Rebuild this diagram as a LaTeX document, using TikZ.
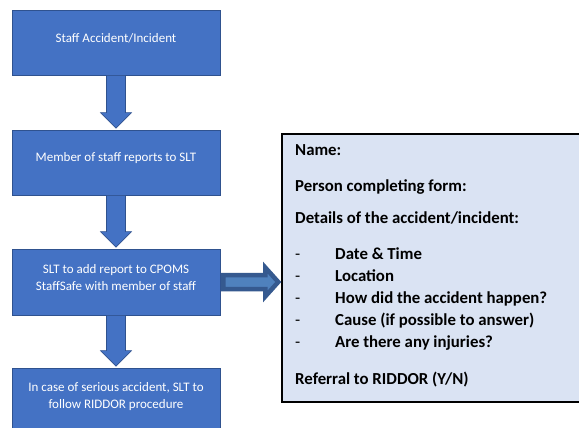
\documentclass[tikz,border=0pt]{standalone}
\usepackage{fontspec}
\setmainfont{Carlito}
\usetikzlibrary{calc}
\definecolor{boxblue}{HTML}{4472C4}
\definecolor{boxedge}{HTML}{2F528F}
\definecolor{formfill}{HTML}{DAE3F3}
\definecolor{arrfill}{HTML}{4F81BD}
\definecolor{arredge}{HTML}{35598F}
\tikzset{
  stepbox/.style={draw=boxedge, line width=0.8pt, fill=boxblue,
    minimum width=208pt, inner sep=0pt},
  steptxt/.style={text=white, align=center, inner sep=0pt,
    font=\fontsize{13}{17}\selectfont},
  downarr/.style={draw=boxedge, line width=0.6pt, fill=boxblue},
  rightarr/.style={draw=arredge, line width=4.5pt, fill=arrfill, line join=miter},
  formbox/.style={draw=black, line width=1.5pt, fill=formfill, inner sep=0pt},
  formtxt/.style={anchor=base west, inner sep=0pt, font=\fontsize{16.8}{19}\selectfont\bfseries},
  formdash/.style={anchor=base west, inner sep=0pt, font=\fontsize{16.8}{19}\selectfont}
}
\newcommand\blockdown[2]{%
  \draw[downarr] let \p1=(#1.south), \p2=(#2.north) in
    (\x1-9.5pt,\y1) -- (\x1-9.5pt,\y2+17pt) -- (\x1-15.5pt,\y2+17pt) --
    (\x1,\y2+1.5pt) -- (\x1+15.5pt,\y2+17pt) -- (\x1+9.5pt,\y2+17pt) --
    (\x1+9.5pt,\y1) -- cycle;}
\begin{document}
\begin{tikzpicture}[x=1pt,y=-1pt]
\clip (0,0) rectangle (579,428);
\fill[white] (0,0) rectangle (579,428);
% flow boxes
\node[stepbox, minimum height=65pt] (b1) at (116,42.5) {};
\node[stepbox, minimum height=65pt] (b2) at (116,162.5) {};
\node[stepbox, minimum height=66pt] (b3) at (116,282) {};
\node[stepbox, minimum height=64pt] (b4) at (116,400) {};
\node[steptxt] (t1) at (116,38) {Staff Accident/Incident};
\node[steptxt] (t2) at (116,158) {Member of staff reports to SLT};
\node[steptxt] (t3) at (116,277.5) {SLT to add report to CPOMS\\StaffSafe with member of staff};
\node[steptxt] (t4) at (116,396.5) {In case of serious accident, SLT to\\follow RIDDOR procedure};
% form box
\node[formbox, minimum width=300pt, minimum height=268pt] (form) at (432,268) {};
% arrows
\blockdown{b1}{b2}
\blockdown{b2}{b3}
\blockdown{b3}{b4}
\draw[rightarr] let \p1=(b3.east), \p2=(form.west) in
  (\x1+3pt,\y1+7pt) -- (\x2-16pt,\y1+7pt) -- (\x2-16pt,\y1+14.5pt) --
  (\x2-3pt,\y1) -- (\x2-16pt,\y1-14.5pt) -- (\x2-16pt,\y1-7pt) --
  (\x1+3pt,\y1-7pt) -- cycle;
% form text
\node[formtxt] (f1) at (295,156) {Name:};
\node[formtxt] (f2) at (295,191) {Person completing form:};
\node[formtxt] (f3) at (295,223) {Details of the accident/incident:};
\node[formdash] (d1) at (295,259) {-};
\node[formtxt] (i1) at (335,259) {Date \& Time};
\node[formdash] (d2) at (295,281) {-};
\node[formtxt] (i2) at (335,281) {Location};
\node[formdash] (d3) at (295,303) {-};
\node[formtxt] (i3) at (335,303) {How did the accident happen?};
\node[formdash] (d4) at (295,325) {-};
\node[formtxt] (i4) at (335,325) {Cause (if possible to answer)};
\node[formdash] (d5) at (295,347) {-};
\node[formtxt] (i5) at (335,347) {Are there any injuries?};
\node[formtxt] (f4) at (295,384) {Referral to RIDDOR (Y/N)};
\end{tikzpicture}
\end{document}
